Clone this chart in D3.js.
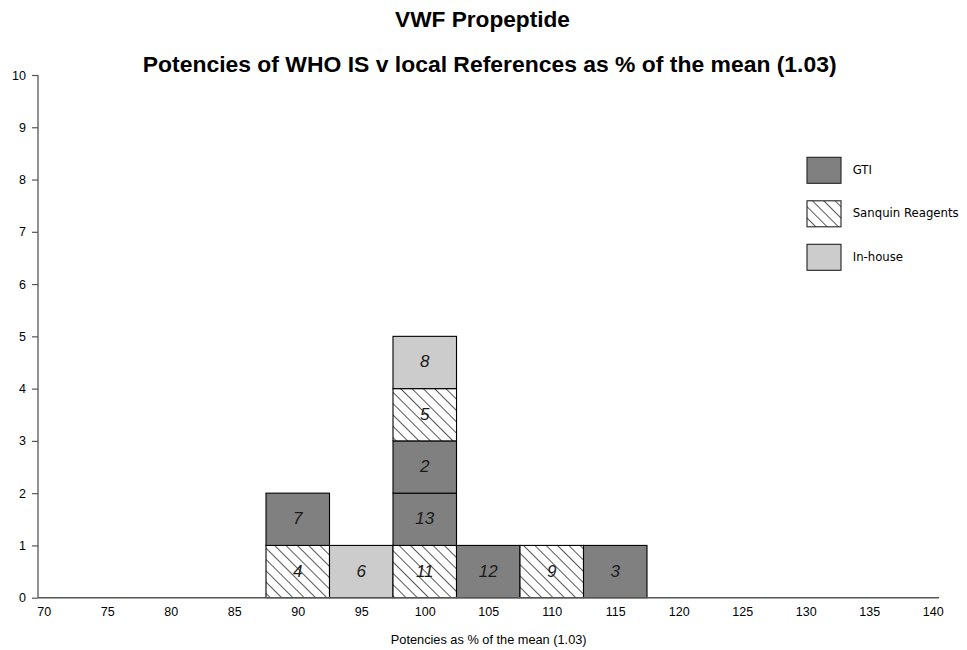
<!DOCTYPE html>
<html>
<head>
<meta charset="utf-8">
<script src="https://cdn.jsdelivr.net/npm/d3@7"></script>
<style>
  body { margin: 0; background: #fff; }
  svg { display: block; }
</style>
</head>
<body>
<svg id="chart" width="967" height="650"></svg>
<script>
// ---- data ----
const titleMain = "VWF Propeptide";
const titleSub = "Potencies of WHO IS v local References as % of the mean (1.03)";
const xTitle = "Potencies as % of the mean (1.03)";
const xTicks = [70, 75, 80, 85, 90, 95, 100, 105, 110, 115, 120, 125, 130, 135, 140];
const yTicks = [0, 1, 2, 3, 4, 5, 6, 7, 8, 9, 10];
const refTypes = ["GTI", "Sanquin Reagents", "In-house"];
// each block = one lab, stacked in bin order (bottom to top)
const labIds     = [4, 7, 6, 11, 13, 2, 5, 8, 12, 9, 3];
const binCentres = [90, 90, 95, 100, 100, 100, 100, 100, 105, 110, 115];
const labRefs    = ["Sanquin Reagents", "GTI", "In-house", "Sanquin Reagents", "GTI", "GTI",
                    "Sanquin Reagents", "In-house", "GTI", "Sanquin Reagents", "GTI"];
const binWidth = 5;

// ---- build ----
const svg = d3.select("#chart");
const x = d3.scaleLinear().domain([70, 140]).range([43.75, 932.75]);
const y = d3.scaleLinear().domain([0, 10]).range([597.7, 75]);

const defs = svg.append("defs");
const pat = defs.append("pattern")
  .attr("id", "hatch").attr("patternUnits", "userSpaceOnUse")
  .attr("width", 8).attr("height", 8)
  .attr("patternTransform", "rotate(-45)");
pat.append("rect").attr("width", 8).attr("height", 8).attr("fill", "#fff");
pat.append("line").attr("x1", 0).attr("y1", 0).attr("x2", 0).attr("y2", 8)
  .attr("stroke", "#000").attr("stroke-width", 1.3);

const fillFor = d3.scaleOrdinal().domain(refTypes).range(["#808080", "url(#hatch)", "#cccccc"]);

// stacking
const counts = {};
const blocks = labIds.map((id, i) => {
  const b = binCentres[i];
  const lvl = counts[b] || 0;
  counts[b] = lvl + 1;
  return { id, bin: b, ref: labRefs[i], y0: lvl, y1: lvl + 1 };
});

function fitText(sel, target) {
  const n = sel.node();
  const fs = parseFloat(sel.attr("font-size"));
  const w = n.getComputedTextLength();
  if (w > 0) sel.attr("font-size", (fs * target / w).toFixed(2));
}

// titles
const t1 = svg.append("text").attr("x", 482.5).attr("y", 26.5)
  .attr("text-anchor", "middle").attr("font-family", "Liberation Sans, Arial, sans-serif")
  .attr("font-weight", "bold").attr("font-size", 20).attr("fill", "#000").text(titleMain);
fitText(t1, 175);
const t2 = svg.append("text").attr("x", 489.7).attr("y", 71.5)
  .attr("text-anchor", "middle").attr("font-family", "Liberation Sans, Arial, sans-serif")
  .attr("font-weight", "bold").attr("font-size", 20).attr("fill", "#000").text(titleSub);
fitText(t2, 694);

// axes
const axisColor = "#555";
const yAxis = svg.append("g").attr("transform", "translate(38,0)")
  .call(d3.axisLeft(y).tickValues(yTicks).tickSize(6).tickPadding(6).tickFormat(d3.format("d")));
yAxis.attr("font-size", 12.5).attr("font-family", "Liberation Sans, Arial, sans-serif");
yAxis.select(".domain").remove();
yAxis.selectAll(".tick line").attr("stroke", axisColor).attr("stroke-width", 1.2);
yAxis.selectAll("text").attr("fill", "#000");

const xAxis = svg.append("g").attr("transform", "translate(0,597.7)")
  .call(d3.axisBottom(x).tickValues(xTicks).tickSize(0).tickPadding(9).tickFormat(d3.format("d")));
xAxis.attr("font-size", 12.5).attr("font-family", "Liberation Sans, Arial, sans-serif");
xAxis.select(".domain").remove();
xAxis.selectAll("text").attr("fill", "#000");

// bars
const g = svg.append("g");
g.selectAll("rect").data(blocks).join("rect")
  .attr("x", d => x(d.bin - binWidth / 2))
  .attr("y", d => y(d.y1))
  .attr("width", d => x(d.bin + binWidth / 2) - x(d.bin - binWidth / 2))
  .attr("height", d => y(d.y0) - y(d.y1))
  .attr("fill", d => fillFor(d.ref))
  .attr("stroke", "#000").attr("stroke-width", 1.1);

g.selectAll("text").data(blocks).join("text")
  .attr("x", d => x(d.bin))
  .attr("y", d => (y(d.y0) + y(d.y1)) / 2 + 5)
  .attr("text-anchor", "middle")
  .attr("font-family", "Liberation Sans, Arial, sans-serif")
  .attr("font-style", "italic").attr("font-size", 17).attr("fill", "#1a1a1a")
  .text(d => d.id);

// axis lines on top
svg.append("line").attr("x1", 38).attr("x2", 38).attr("y1", y(10)).attr("y2", y(0))
  .attr("stroke", axisColor).attr("stroke-width", 1.3);
svg.append("line").attr("x1", 38).attr("x2", 939).attr("y1", y(0)).attr("y2", y(0))
  .attr("stroke", axisColor).attr("stroke-width", 1.6);

// x title
const xt = svg.append("text").attr("x", 488.7).attr("y", 644)
  .attr("text-anchor", "middle").attr("font-family", "Liberation Sans, Arial, sans-serif")
  .attr("font-size", 11).attr("fill", "#000").text(xTitle);
fitText(xt, 196);

// legend
const leg = svg.append("g");
const legY = d3.scalePoint().domain(refTypes).range([157.3, 244.3]);
leg.selectAll("rect").data(refTypes).join("rect")
  .attr("x", 807).attr("y", d => legY(d)).attr("width", 34).attr("height", 26)
  .attr("fill", d => fillFor(d)).attr("stroke", "#222").attr("stroke-width", 1.1);
const legTexts = leg.selectAll("text").data(refTypes).join("text")
  .attr("x", 852.7).attr("y", d => legY(d) + 16.5)
  .attr("font-family", "DejaVu Sans, sans-serif").attr("font-size", 10)
  .attr("fill", "#000").text(d => d);
fitText(legTexts.filter(d => d === "Sanquin Reagents"), 106);
const lfs = legTexts.filter(d => d === "Sanquin Reagents").attr("font-size");
legTexts.attr("font-size", lfs);
</script>
</body>
</html>
